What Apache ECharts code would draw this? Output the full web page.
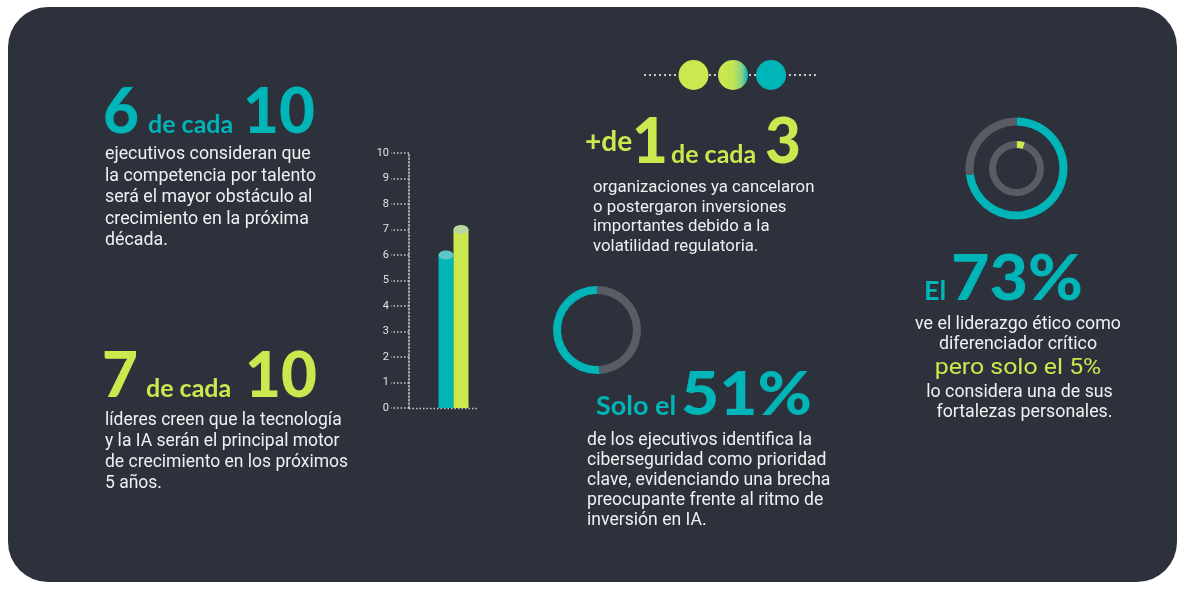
<!DOCTYPE html>
<html><head><meta charset="utf-8">
<script src="https://cdn.jsdelivr.net/npm/echarts@6/dist/echarts.min.js"></script>
<style>html,body{margin:0;padding:0;background:#fff}#c{width:1181px;height:591px}</style>
</head><body><div id="c"></div>
<script>
// ---- data ----
var barCategories = ['6 de cada 10', '7 de cada 10'];
var barValues = [6, 7];
var yTicks = [0, 10, 1]; // min, max, interval
var cyber = [51, 49];       // 51% identifica ciberseguridad
var ethics = [73, 27];      // 73% liderazgo ético
var strengths = [5, 95];    // solo el 5%

// ---- styles ----
var TEAL = '#00b5b8', LIME = '#cbe94e', GRAY = '#595c65', BG = '#2d313c', TXT = '#f0f0f0';
var barColors = [TEAL, LIME];
var capColors = ['#5fc6c9', '#b8d7a2'];

var chart = echarts.init(document.getElementById('c'), null, {renderer: 'canvas'});

var NUM = '"Lato", sans-serif', BODY = 'Roboto, sans-serif';
function T(text, x, baseline, size, color, weight, family, align, sx) {
  return {type: 'text', z: 10, x: x, y: baseline - 0.33 * size, scaleX: sx || 1, style: {
    text: text, x: 0, y: 0, fill: color,
    font: (weight || 'normal') + ' ' + size + 'px ' + (family || BODY),
    textAlign: align || 'left', textVerticalAlign: 'middle'}};
}
function B(text, x, mid, size, color, align, sx) {
  return {type: 'text', z: 10, x: x, y: mid, scaleX: sx || 1, style: {
    text: text, x: 0, y: 0, fill: color || TXT,
    font: 'normal ' + size + 'px ' + BODY,
    textAlign: align || 'left', textVerticalAlign: 'middle'}};
}
function lines(arr, x, mids, size, align) {
  return arr.map(function (t, i) { return B(t, x, mids[i], size, TXT, align); });
}

var g = [];
g.push({type: 'rect', z: -10, shape: {x: 8, y: 7, width: 1169, height: 575, r: 40}, style: {fill: BG}});
// top dots
g.push({type: 'line', z: 1, shape: {x1: 644, y1: 75, x2: 817, y2: 75}, style: {stroke: '#c9cbd0', lineWidth: 2, lineDash: [2, 3]}});
g.push({type: 'circle', z: 2, shape: {cx: 693.5, cy: 75, r: 15}, style: {fill: LIME}});
g.push({type: 'circle', z: 2, shape: {cx: 733, cy: 75, r: 15}, style: {fill: new echarts.graphic.LinearGradient(0, 0, 1, 0, [
  {offset: 0, color: LIME}, {offset: 0.5, color: '#c3e552'}, {offset: 0.8, color: '#86d285'}, {offset: 1, color: TEAL}])}});
g.push({type: 'circle', z: 2, shape: {cx: 771, cy: 75, r: 15}, style: {fill: TEAL}});
// bar chart x axis (dotted)
g.push({type: 'line', z: 1, shape: {x1: 409, y1: 408.5, x2: 478, y2: 408.5}, style: {stroke: '#c9cbd0', lineWidth: 1.5, lineDash: [1.5, 2]}});

// block 1
g.push(T('6', 103, 133, 62, TEAL, '900', NUM));
g.push(T('de cada', 148, 133, 25, TEAL, '700', NUM));
g.push(T('10', 243, 133, 62, TEAL, '900', NUM));
g = g.concat(lines(['ejecutivos consideran que', 'la competencia por talento', 'será el mayor obstáculo al', 'crecimiento en la próxima', 'década.'],
  105, [155, 176.5, 198, 219.5, 240.5], 17.8));
// block 2
g.push(T('7', 102, 397, 62, LIME, '900', NUM));
g.push(T('de cada', 146, 397, 25, LIME, '700', NUM));
g.push(T('10', 245, 397, 62, LIME, '900', NUM));
g = g.concat(lines(['líderes creen que la tecnología', 'y la IA serán el principal motor', 'de crecimiento en los próximos', '5 años.'],
  105, [421, 441.8, 462.6, 483.4], 17.5));
// block 3
g.push(T('+de', 585, 151, 28, LIME, '700', NUM));
g.push(T('1', 632, 163, 62, LIME, '900', NUM));
g.push(T('de cada', 671, 163, 25, LIME, '700', NUM));
g.push(T('3', 765, 163, 62, LIME, '900', NUM));
g = g.concat(lines(['organizaciones ya cancelaron', 'o postergaron inversiones', 'importantes debido a la', 'volatilidad regulatoria.'],
  593, [188, 207.5, 227, 246.5], 16.8));
// block 4
g.push(T('Solo el', 596, 415, 27, TEAL, '700', NUM));
g.push(T('51%', 681, 415, 61, TEAL, '900', NUM, 'left', 1.08));
g = g.concat(lines(['de los ejecutivos identifica la', 'ciberseguridad como prioridad', 'clave, evidenciando una brecha', 'preocupante frente al ritmo de', 'inversión en IA.'],
  587, [441, 460.7, 480.5, 500.5, 521], 17.6));
// block 5
g.push(T('El', 924, 300, 27, TEAL, '700', NUM));
g.push(T('73%', 951, 300, 62, TEAL, '900', NUM, 'left', 1.07));
g.push(B('ve el liderazgo ético como', 1018, 325, 17.8, TXT, 'center'));
g.push(B('diferenciador crítico', 1018, 345, 17.8, TXT, 'center'));
g.push(B('pero solo el 5%', 1018, 368.5, 22, LIME, 'center', 1.13));
g.push(B('lo considera una de sus', 1019.5, 393, 17.8, TXT, 'center'));
g.push(B('fortalezas personales.', 1024.5, 413, 17.8, TXT, 'center'));

function ring(center, radius, data, colors, clockwise) {
  return {type: 'pie', center: center, radius: radius, startAngle: 90, clockwise: clockwise,
    silent: true, label: {show: false}, labelLine: {show: false}, emphasis: {disabled: true},
    itemStyle: {borderWidth: 0},
    data: data.map(function (v, i) { return {value: v, itemStyle: {color: colors[i]}}; })};
}

chart.setOption({
  animation: false,
  backgroundColor: 'transparent',
  graphic: g,
  grid: {left: 438.5, top: 153, width: 30, height: 255},
  xAxis: {type: 'category', data: barCategories, show: false},
  yAxis: {type: 'value', min: yTicks[0], max: yTicks[1], interval: yTicks[2], offset: 29.5,
    axisLine: {show: true, lineStyle: {color: '#c9cbd0', width: 1.5, type: [1.5, 2]}},
    axisTick: {show: true, length: 18, lineStyle: {color: '#c9cbd0', width: 1.5, type: [1.5, 2]}},
    splitLine: {show: false},
    axisLabel: {color: '#e4e4e4', fontSize: 11, fontFamily: 'Roboto', margin: 20}},
  series: [
    {type: 'bar', barWidth: 15, silent: true, z: 3,
      data: barValues.map(function (v, i) { return {value: v, itemStyle: {color: barColors[i]}}; })},
    {type: 'scatter', symbol: 'circle', symbolSize: [15, 9], silent: true, z: 4,
      data: barValues.map(function (v, i) { return {value: v, itemStyle: {color: capColors[i], opacity: 1}}; })},
    ring([597, 330], [36, 44], cyber, [TEAL, GRAY], false),
    ring([1016.5, 168.5], [43, 51], ethics, [TEAL, GRAY], true),
    ring([1016.5, 168.5], [20.5, 27.5], strengths, [LIME, GRAY], true)
  ]
});
</script></body></html>
